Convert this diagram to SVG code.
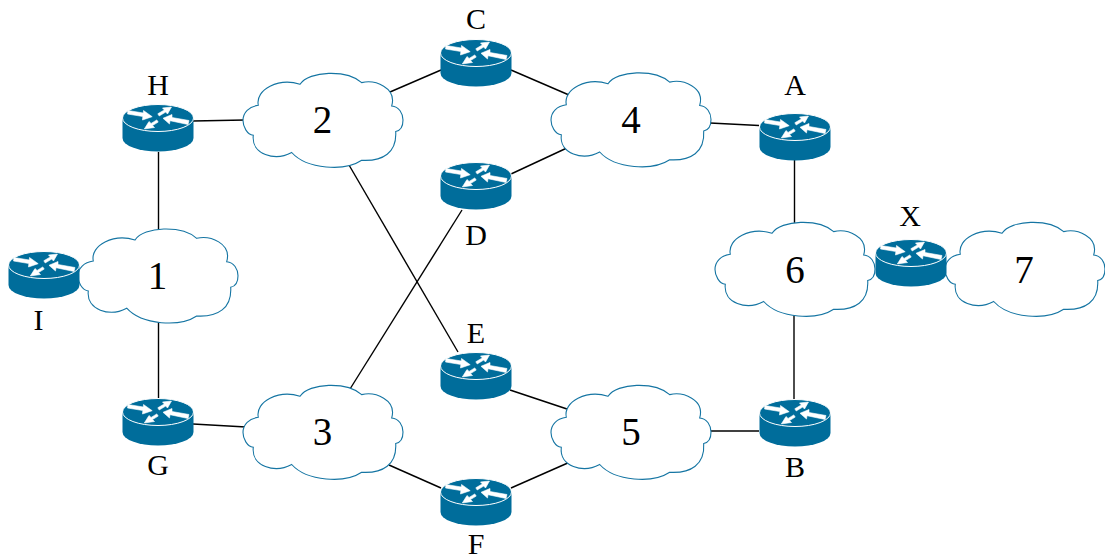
<svg xmlns="http://www.w3.org/2000/svg" width="1105" height="558" viewBox="0 0 1105 558">
<style>
.bg{fill:#fff}
.link{stroke:#000;stroke-width:1.4;fill:none;stroke-linecap:butt}
.cloud{fill:#fff;stroke:#1575a3;stroke-width:1.1}
.body{fill:#006d9b}
.rim{fill:#006d9b;stroke:#fff;stroke-width:1}
.arr{fill:#fff;stroke:#fff;stroke-width:0.6;stroke-linejoin:round}
.num{font-family:"Liberation Serif","Times New Roman",serif;font-size:39px;fill:#000;text-anchor:middle}
.lab{font-family:"Liberation Serif","Times New Roman",serif;font-size:30px;fill:#000;text-anchor:middle}
</style>
<defs>
<path id="cloud-shape" class="cloud" d="M-64.7,-14.2 C-68,-30 -44,-42 -23,-35.2 C-14,-49 24,-50 38.7,-36.9 C52,-40 74,-32 68.7,-13.5 C76,-13 80,-6 80,0.5 C80,6 78,11 72.7,12 C74,33 60,42 38.7,40.8 C22,52 -16,50 -31.3,33 C-48,42 -72,35 -69.7,15.8 C-76,15 -80,7 -80,1 C-80,-7 -74,-13 -64.7,-14.2 Z"/>
<g id="router-shape">
<path class="body" d="M-35.5,0 L-35.5,20 A35.5,13.5 0 0 0 35.5,20 L35.5,0 Z"/>
<ellipse class="rim" cx="0" cy="0" rx="35.5" ry="13.5"/>
<path class="arr" d="M-30,-7.5 L-14.7,-5 L-14.5,-7.5 L-5.8,-1.3 L-15.5,2 L-15.2,-1.5 L-30.5,-4 Z"/>
<path class="arr" d="M-0.2,-4.2 L6.3,-8.1 L4.5,-10 L13.5,-11 L9.5,-4 L7.7,-5.9 L1.2,-2 Z"/>
<path class="arr" d="M31,2.5 L14,-0.5 L14,-3.5 L5,0.3 L11.5,6 L12,2.7 L30,6.5 Z"/>
<path class="arr" d="M-1.2,1.9 L-6.9,5.4 L-9,3.5 L-13.7,11 L-3.5,9.5 L-5.5,7.6 L0.2,4.1 Z"/>
</g>
</defs>
<rect class="bg" width="1105" height="558"/>
<g id="connectors">
<line class="link" x1="193" y1="121" x2="245" y2="120"/>
<line class="link" x1="158.5" y1="152" x2="158.5" y2="231"/>
<line class="link" x1="158.5" y1="320" x2="158.5" y2="400"/>
<line class="link" x1="193" y1="424" x2="246" y2="427"/>
<line class="link" x1="390" y1="92" x2="441" y2="70"/>
<line class="link" x1="511" y1="70" x2="569" y2="95"/>
<line class="link" x1="511" y1="174" x2="569" y2="147"/>
<line class="link" x1="349" y1="165" x2="458" y2="352"/>
<line class="link" x1="350" y1="389" x2="462" y2="210"/>
<line class="link" x1="510" y1="390" x2="567" y2="409"/>
<line class="link" x1="389" y1="465" x2="441" y2="488"/>
<line class="link" x1="511" y1="488" x2="570" y2="462"/>
<line class="link" x1="710" y1="123" x2="759" y2="125.5"/>
<line class="link" x1="794.5" y1="160" x2="794.5" y2="224"/>
<line class="link" x1="794" y1="315" x2="794" y2="400"/>
<line class="link" x1="708" y1="431" x2="759" y2="431"/>
</g>
<g id="cloud1"><use href="#cloud-shape" x="158" y="275.2"/><text class="num" x="157.5" y="288.5">1</text></g>
<g id="cloud2"><use href="#cloud-shape" x="323" y="119.5"/><text class="num" x="322.5" y="133">2</text></g>
<g id="cloud3"><use href="#cloud-shape" x="323" y="431.5"/><text class="num" x="322.5" y="445">3</text></g>
<g id="cloud4"><use href="#cloud-shape" x="631" y="119"/><text class="num" x="631" y="133">4</text></g>
<g id="cloud5"><use href="#cloud-shape" x="631" y="431.5"/><text class="num" x="631" y="445">5</text></g>
<g id="cloud6"><use href="#cloud-shape" x="795" y="268.5"/><text class="num" x="795" y="282.5">6</text></g>
<g id="cloud7"><use href="#cloud-shape" x="1025" y="268.5"/><text class="num" x="1024" y="283">7</text></g>
<g id="routerH"><use href="#router-shape" x="158" y="118"/><text class="lab" x="158" y="94.5">H</text></g>
<g id="routerC"><use href="#router-shape" x="476" y="53"/><text class="lab" x="476" y="28.5">C</text></g>
<g id="routerD"><use href="#router-shape" x="476" y="176"/><text class="lab" x="476" y="245">D</text></g>
<g id="routerA"><use href="#router-shape" x="795" y="127"/><text class="lab" x="795" y="95">A</text></g>
<g id="routerI"><use href="#router-shape" x="44" y="265"/><text class="lab" x="38.5" y="330">I</text></g>
<g id="routerG"><use href="#router-shape" x="158" y="412"/><text class="lab" x="158" y="475">G</text></g>
<g id="routerE"><use href="#router-shape" x="476" y="366"/><text class="lab" x="476" y="343">E</text></g>
<g id="routerF"><use href="#router-shape" x="476" y="492"/><text class="lab" x="476" y="554">F</text></g>
<g id="routerB"><use href="#router-shape" x="795" y="413"/><text class="lab" x="795" y="477">B</text></g>
<g id="routerX"><use href="#router-shape" x="911" y="253"/><text class="lab" x="910" y="225.5">X</text></g>
</svg>
